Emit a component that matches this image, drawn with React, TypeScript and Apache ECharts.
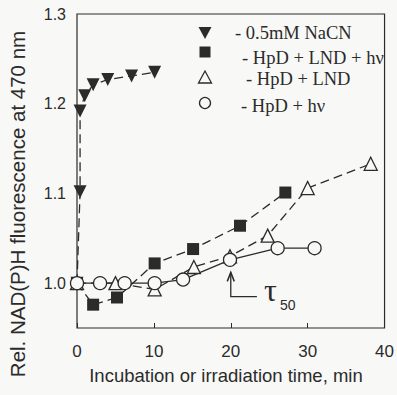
import React, { useEffect, useRef } from "react";
import * as echarts from "echarts";

// ---- data ----
const nacnX = [0, 0.4, 0.4, 1.0, 2.1, 4.0, 7.1, 10.1];
const nacnY = [1.0, 1.102, 1.192, 1.209, 1.221, 1.227, 1.231, 1.235];

const lndHvX = [0, 2.1, 5.2, 10.1, 15.1, 21.2, 27.1];
const lndHvY = [1.0, 0.976, 0.984, 1.022, 1.038, 1.064, 1.101];

const lndX = [0, 5.0, 10.1, 15.2, 19.9, 24.8, 30.0, 38.2];
const lndY = [1.0, 1.0, 0.993, 1.018, 1.03, 1.053, 1.106, 1.133];

const hvX = [0, 3.0, 6.2, 10.1, 13.8, 19.9, 26.1, 30.9];
const hvY = [1.0, 1.0, 1.0, 1.0, 1.004, 1.026, 1.039, 1.039];

const legendLabels = [
  "- 0.5mM NaCN",
  "- HpD + LND + h\u03bd",
  "- HpD + LND",
  "- HpD + h\u03bd",
];
const xAxisTitle = "Incubation or irradiation time, min";
const yAxisTitle = "Rel. NAD(P)H fluorescence at 470 nm";
const tauX = 20; // tau_50 marker time
const tauTipY = 1.012;
const tauBaseY = 0.985;
const tauElbowX = 23.4;

const INK = "#2b2b2b";
const BG = "#f8f8f6";

const pairs = (xs: number[], ys: number[]) => xs.map((x, i) => [x, ys[i]]);

export default function App() {
  const ref = useRef<HTMLDivElement>(null);
  useEffect(() => {
    const chart = echarts.init(ref.current!, null, { renderer: "svg" });
    const dashed = { color: INK, width: 1.3, type: [9, 5] as any };
    const solid = { color: INK, width: 1.3, type: "solid" as any };
    const option: any = {
      animation: false,
      backgroundColor: BG,
      grid: {
        left: 77,
        top: 14,
        right: 10,
        bottom: 67,
        show: true,
        borderColor: INK,
        borderWidth: 1.2,
        backgroundColor: "transparent",
      },
      xAxis: {
        type: "value",
        min: 0,
        max: 40,
        interval: 10,
        axisLine: { show: false },
        axisTick: { show: true, inside: true, length: 5, lineStyle: { color: INK } },
        splitLine: { show: false },
        axisLabel: {
          color: INK,
          fontFamily: "Liberation Sans",
          fontSize: 17,
          margin: 15,
        },
      },
      yAxis: {
        type: "value",
        min: 0.95,
        max: 1.3,
        interval: 0.05,
        axisLine: { show: false },
        axisTick: { show: false },
        splitLine: { show: false },
        axisLabel: {
          color: INK,
          fontFamily: "Liberation Sans",
          fontSize: 16,
          margin: 11,
          formatter: (v: number) =>
            Math.abs(v * 10 - Math.round(v * 10)) < 1e-6 ? v.toFixed(1) : "",
        },
      },
      series: [
        {
          type: "line",
          data: pairs(nacnX, nacnY),
          symbol: "triangle",
          symbolRotate: 180,
          symbolSize: 13,
          itemStyle: { color: INK },
          lineStyle: dashed,
        },
        {
          type: "line",
          data: pairs(lndHvX, lndHvY),
          symbol: "rect",
          symbolSize: 12,
          itemStyle: { color: INK },
          lineStyle: dashed,
        },
        {
          type: "line",
          data: pairs(lndX, lndY),
          symbol: "triangle",
          symbolSize: 13,
          itemStyle: { color: BG, borderColor: INK, borderWidth: 1.3 },
          lineStyle: dashed,
        },
        {
          type: "line",
          data: pairs(hvX, hvY),
          symbol: "circle",
          symbolSize: 13,
          itemStyle: { color: BG, borderColor: INK, borderWidth: 1.3 },
          lineStyle: solid,
        },
      ],
    };
    chart.setOption(option);

    const tip = chart.convertToPixel({ gridIndex: 0 }, [tauX, tauTipY]) as number[];
    const base = chart.convertToPixel({ gridIndex: 0 }, [tauX, tauBaseY]) as number[];
    const elbow = chart.convertToPixel({ gridIndex: 0 }, [tauElbowX, tauBaseY]) as number[];

    const serif = "Liberation Serif";
    const legendText = (i: number, x: number, y: number) => ({
      type: "text",
      x,
      y,
      style: {
        text: legendLabels[i],
        fill: INK,
        font: `18.5px ${serif}`,
        textAlign: "left",
        textVerticalAlign: "middle",
      },
    });

    chart.setOption({
      graphic: [
        // legend symbols
        { type: "polygon", shape: { points: [[198.5, 27], [211.5, 27], [205, 39]] }, style: { fill: INK } },
        { type: "rect", shape: { x: 199.5, y: 46.5, width: 11, height: 11 }, style: { fill: INK } },
        { type: "polygon", shape: { points: [[205, 71], [198.5, 83], [211.5, 83]] }, style: { fill: "none", stroke: INK, lineWidth: 1.3 } },
        { type: "circle", shape: { cx: 205, cy: 103, r: 5.5 }, style: { fill: "none", stroke: INK, lineWidth: 1.3 } },
        legendText(0, 235, 33),
        legendText(1, 242, 58),
        legendText(2, 246, 79),
        legendText(3, 241, 106),
        // tau50 annotation
        {
          type: "polyline",
          shape: { points: [[tip[0], tip[1]], [base[0], base[1]], [elbow[0], elbow[1]]] },
          style: { stroke: INK, lineWidth: 1.3, fill: "none" },
        },
        {
          type: "polyline",
          shape: { points: [[tip[0] - 3.5, tip[1] + 9], [tip[0], tip[1]], [tip[0] + 3.5, tip[1] + 9]] },
          style: { stroke: INK, lineWidth: 1.5, fill: "none" },
        },
        {
          type: "text",
          x: elbow[0] + 7,
          y: elbow[1] + 9,
          style: { text: "\u03c4", fill: INK, font: `32px ${serif}`, textAlign: "left", textVerticalAlign: "bottom" },
        },
        {
          type: "text",
          x: elbow[0] + 23,
          y: elbow[1] + 15,
          style: { text: "50", fill: INK, font: `14px Liberation Sans`, textAlign: "left", textVerticalAlign: "bottom" },
        },
        // axis titles
        {
          type: "text",
          x: 226,
          y: 375,
          style: { text: xAxisTitle, fill: INK, font: `18.5px Liberation Sans`, textAlign: "center", textVerticalAlign: "middle" },
        },
        {
          type: "text",
          x: 17,
          y: 204,
          rotation: Math.PI / 2,
          style: { text: yAxisTitle, fill: INK, font: `20.5px Liberation Sans`, textAlign: "center", textVerticalAlign: "middle" },
        },
      ],
    });
    return () => chart.dispose();
  }, []);
  return (
    <div
      ref={ref}
      style={{ position: "fixed", left: 0, top: 0, width: 397, height: 395 }}
    />
  );
}
